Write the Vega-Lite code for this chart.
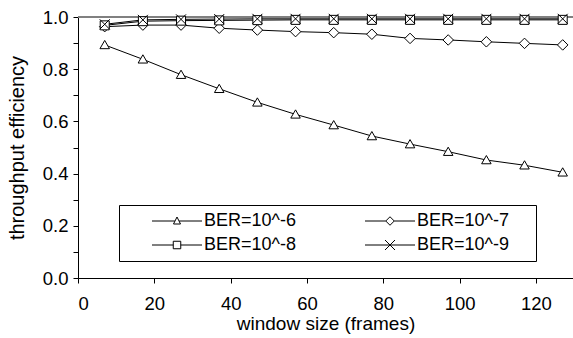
{
  "$schema": "https://vega.github.io/schema/vega-lite/v6.json",
  "width": 495,
  "height": 261,
  "autosize": {"type": "none"},
  "padding": {"left": 78, "top": 17, "right": 0, "bottom": 60},
  "background": "white",
  "config": {
    "view": {"stroke": null},
    "font": "Liberation Sans",
    "axis": {
      "grid": false,
      "domainColor": "black",
      "domainWidth": 1,
      "tickColor": "black",
      "tickWidth": 1,
      "tickSize": 5,
      "labelColor": "black",
      "labelFont": "Liberation Sans",
      "labelFontSize": 18.5,
      "titleColor": "black",
      "titleFont": "Liberation Sans",
      "titleFontWeight": "normal",
      "titleFontSize": 19
    }
  },
  "data": {
    "values": [
      {"series": "BER=10^-6", "window": 7, "eff": 0.893},
      {"series": "BER=10^-6", "window": 17, "eff": 0.838},
      {"series": "BER=10^-6", "window": 27, "eff": 0.779},
      {"series": "BER=10^-6", "window": 37, "eff": 0.725},
      {"series": "BER=10^-6", "window": 47, "eff": 0.673},
      {"series": "BER=10^-6", "window": 57, "eff": 0.627},
      {"series": "BER=10^-6", "window": 67, "eff": 0.586},
      {"series": "BER=10^-6", "window": 77, "eff": 0.544},
      {"series": "BER=10^-6", "window": 87, "eff": 0.513},
      {"series": "BER=10^-6", "window": 97, "eff": 0.484},
      {"series": "BER=10^-6", "window": 107, "eff": 0.452},
      {"series": "BER=10^-6", "window": 117, "eff": 0.432},
      {"series": "BER=10^-6", "window": 127, "eff": 0.405},
      {"series": "BER=10^-7", "window": 7, "eff": 0.963},
      {"series": "BER=10^-7", "window": 17, "eff": 0.969},
      {"series": "BER=10^-7", "window": 27, "eff": 0.969},
      {"series": "BER=10^-7", "window": 37, "eff": 0.957},
      {"series": "BER=10^-7", "window": 47, "eff": 0.95},
      {"series": "BER=10^-7", "window": 57, "eff": 0.944},
      {"series": "BER=10^-7", "window": 67, "eff": 0.94},
      {"series": "BER=10^-7", "window": 77, "eff": 0.934},
      {"series": "BER=10^-7", "window": 87, "eff": 0.918},
      {"series": "BER=10^-7", "window": 97, "eff": 0.912},
      {"series": "BER=10^-7", "window": 107, "eff": 0.905},
      {"series": "BER=10^-7", "window": 117, "eff": 0.899},
      {"series": "BER=10^-7", "window": 127, "eff": 0.893},
      {"series": "BER=10^-8", "window": 7, "eff": 0.968},
      {"series": "BER=10^-8", "window": 17, "eff": 0.984},
      {"series": "BER=10^-8", "window": 27, "eff": 0.986},
      {"series": "BER=10^-8", "window": 37, "eff": 0.987},
      {"series": "BER=10^-8", "window": 47, "eff": 0.988},
      {"series": "BER=10^-8", "window": 57, "eff": 0.989},
      {"series": "BER=10^-8", "window": 67, "eff": 0.989},
      {"series": "BER=10^-8", "window": 77, "eff": 0.989},
      {"series": "BER=10^-8", "window": 87, "eff": 0.989},
      {"series": "BER=10^-8", "window": 97, "eff": 0.989},
      {"series": "BER=10^-8", "window": 107, "eff": 0.989},
      {"series": "BER=10^-8", "window": 117, "eff": 0.989},
      {"series": "BER=10^-8", "window": 127, "eff": 0.989},
      {"series": "BER=10^-9", "window": 7, "eff": 0.972},
      {"series": "BER=10^-9", "window": 17, "eff": 0.989},
      {"series": "BER=10^-9", "window": 27, "eff": 0.991},
      {"series": "BER=10^-9", "window": 37, "eff": 0.992},
      {"series": "BER=10^-9", "window": 47, "eff": 0.993},
      {"series": "BER=10^-9", "window": 57, "eff": 0.993},
      {"series": "BER=10^-9", "window": 67, "eff": 0.993},
      {"series": "BER=10^-9", "window": 77, "eff": 0.993},
      {"series": "BER=10^-9", "window": 87, "eff": 0.993},
      {"series": "BER=10^-9", "window": 97, "eff": 0.993},
      {"series": "BER=10^-9", "window": 107, "eff": 0.993},
      {"series": "BER=10^-9", "window": 117, "eff": 0.993},
      {"series": "BER=10^-9", "window": 127, "eff": 0.993}
    ]
  },
  "encoding": {
    "x": {
      "field": "window",
      "type": "quantitative",
      "scale": {"domain": [0, 129.7], "nice": false, "zero": false},
      "axis": {
        "title": "window size (frames)",
        "values": [0, 20, 40, 60, 80, 100, 120],
        "format": "d",
        "labelPadding": 11,
        "titlePadding": 2
      }
    },
    "y": {
      "field": "eff",
      "type": "quantitative",
      "scale": {"domain": [0, 1], "nice": false},
      "axis": {
        "title": "throughput efficiency",
        "titleFontSize": 20,
        "values": [0, 0.1, 0.2, 0.3, 0.4, 0.5, 0.6, 0.7, 0.8, 0.9, 1],
        "labelExpr": "round(datum.value * 10) % 2 == 0 ? format(datum.value, '.1f') : ''",
        "labelPadding": 5,
        "titlePadding": 15
      }
    }
  },
  "resolve": {"scale": {"shape": "independent"}, "legend": {"shape": "independent"}},
  "layer": [
    {
      "mark": {"type": "rule", "color": "#808080", "strokeWidth": 1.5},
      "encoding": {"x": null, "y": {"datum": 1}}
    },
    {
      "mark": {"type": "line", "color": "black", "strokeWidth": 1},
      "encoding": {"detail": {"field": "series"}}
    },
    {
      "transform": [{"filter": "false"}],
      "mark": {
        "type": "point",
        "filled": false,
        "color": "black",
        "strokeWidth": 1,
        "size": 100,
        "opacity": 1
      },
      "encoding": {
        "shape": {
          "field": "series",
          "type": "nominal",
          "scale": {
            "domain": ["BER=10^-6", "BER=10^-7", "BER=10^-8", "BER=10^-9"],
            "range": [
              "M-5,0H-0.43M0.43,0H5M0,-0.8L0.7,0.6L-0.7,0.6Z",
              "M-5,0H-0.85M0.85,0H5M0,-0.85L0.85,0L0,0.85L-0.85,0Z",
              "M-5,0H-0.75M0.75,0H5M-0.75,-0.75H0.75V0.75H-0.75Z",
              "M-5,0H5M-1,-1L1,1M-1,1L1,-1"
            ]
          },
          "legend": {
            "title": null,
            "orient": "none",
            "direction": "horizontal",
            "legendX": 41,
            "legendY": 188,
            "columns": 2,
            "padding": 7,
            "symbolOffset": 42,
            "symbolSize": 100,
            "symbolOpacity": 1,
            "symbolStrokeColor": "black",
            "symbolFillColor": "white",
            "symbolStrokeWidth": 1,
            "labelFont": "Liberation Sans",
            "labelFontSize": 18,
            "labelColor": "black",
            "labelOffset": 18,
            "labelExpr": "datum.label + '\u00a0\u00a0\u00a0\u00a0\u2060'",
            "rowPadding": 6,
            "columnPadding": 23,
            "strokeColor": "black",
            "fillColor": "white"
          }
        }
      }
    },
    {
      "mark": {
        "type": "point",
        "filled": true,
        "fill": "white",
        "stroke": "black",
        "strokeWidth": 1,
        "size": 100,
        "opacity": 1
      },
      "encoding": {
        "shape": {
          "field": "series",
          "type": "nominal",
          "scale": {
            "domain": ["BER=10^-6", "BER=10^-7", "BER=10^-8", "BER=10^-9"],
            "range": [
              "M0,-0.9L0.95,0.75L-0.95,0.75Z",
              "M0,-1.05L1.05,0L0,1.05L-1.05,0Z",
              "M-0.9,-0.9H0.9V0.9H-0.9Z",
              "M-1,-1L1,1M-1,1L1,-1"
            ]
          },
          "legend": null
        }
      }
    }
  ]
}
